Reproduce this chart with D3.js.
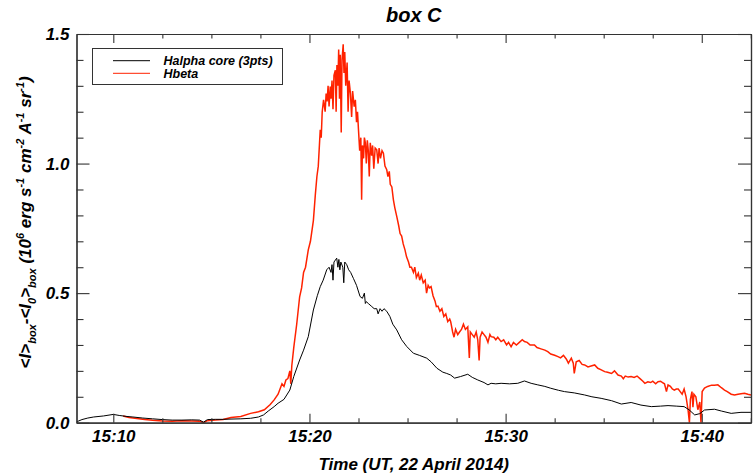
<!DOCTYPE html>
<html>
<head>
<meta charset="utf-8">
<script src="https://cdn.jsdelivr.net/npm/d3@7"></script>
<style>
  body { margin: 0; background: #fff; }
  text { font-family: "Liberation Sans", Arial, sans-serif; font-weight: bold; font-style: italic; }
</style>
</head>
<body>
<div id="chart"></div>
<script>
// time in minutes after 15:00 UT
var halphaTime = [8.12, 8.4, 8.7, 9.0, 9.5, 10.0, 10.3, 10.7, 11.0, 11.5, 12.0, 12.5, 13.0, 13.5, 14.0, 14.4, 14.6, 14.8, 15.2, 15.6,
  16.0, 16.5, 17.0, 17.4, 17.66, 17.9, 18.2, 18.4, 18.7, 19.0, 19.2, 19.5, 19.7, 19.94, 20.2, 20.4, 20.55, 20.7, 20.88, 21.0,
  21.1, 21.15, 21.2, 21.25, 21.39, 21.45, 21.5, 21.55, 21.6, 21.7, 21.75, 21.8, 21.9, 22.0, 22.1, 22.24, 22.4, 22.58, 22.7, 22.8,
  22.85, 22.9, 23.0, 23.15, 23.3, 23.43, 23.5, 23.6, 23.7, 23.8, 23.94, 24.1, 24.25, 24.45, 24.7, 24.96, 25.3, 25.6, 25.98, 26.2,
  26.5, 26.8, 27.0, 27.2, 27.4, 27.7, 28.07, 28.3, 28.58, 28.9, 29.1, 29.26, 29.5, 29.77, 30.2, 30.62, 30.96, 31.3, 31.64, 32.0,
  32.3, 32.7, 33.0, 33.5, 34.03, 34.4, 34.87, 35.4, 35.9, 36.4, 36.9, 37.43, 37.9, 38.28, 38.7, 39.1, 39.35, 39.64, 39.9, 40.14,
  40.65, 41.0, 41.5, 42.0, 42.51];
var halphaValue = [0.003, 0.012, 0.018, 0.022, 0.026, 0.032, 0.028, 0.024, 0.022, 0.018, 0.015, 0.012, 0.010, 0.010, 0.011, 0.010, 0.002, 0.012, 0.013, 0.013,
  0.014, 0.015, 0.017, 0.022, 0.030, 0.045, 0.062, 0.075, 0.090, 0.126, 0.178, 0.242, 0.280, 0.332, 0.435, 0.490, 0.525, 0.550, 0.590, 0.600,
  0.580, 0.610, 0.550, 0.620, 0.635, 0.600, 0.630, 0.590, 0.620, 0.600, 0.540, 0.620, 0.610, 0.590, 0.580, 0.557, 0.530, 0.487, 0.480, 0.500,
  0.460, 0.467, 0.460, 0.450, 0.440, 0.440, 0.420, 0.440, 0.430, 0.440, 0.430, 0.410, 0.380, 0.358, 0.320, 0.294, 0.268, 0.260, 0.249, 0.235,
  0.210, 0.195, 0.190, 0.184, 0.172, 0.178, 0.187, 0.175, 0.165, 0.155, 0.146, 0.152, 0.150, 0.152, 0.150, 0.152, 0.161, 0.152, 0.146, 0.140,
  0.133, 0.125, 0.120, 0.115, 0.107, 0.100, 0.094, 0.085, 0.072, 0.078, 0.068, 0.062, 0.064, 0.066, 0.064, 0.062, 0.050, 0.030, 0.035, 0.049,
  0.052, 0.045, 0.036, 0.040, 0.040];

var hbetaTime = [10.5, 10.8, 11.2, 11.6, 12.0, 12.5, 13.0, 13.5, 14.0, 14.4, 14.6, 14.8, 15.2, 15.6, 16.0, 16.5, 17.0, 17.4, 17.7, 18.0,
  18.2, 18.4, 18.6, 18.7, 18.8, 18.9, 19.0, 19.05, 19.1, 19.2, 19.35, 19.5, 19.6, 19.7, 19.8, 19.94, 20.05, 20.2, 20.3, 20.38,
  20.45, 20.55, 20.6, 20.65, 20.72, 20.8, 20.85, 20.9, 20.95, 21.0, 21.06, 21.1, 21.15, 21.2, 21.25, 21.32, 21.36, 21.4, 21.45, 21.49,
  21.53, 21.57, 21.62, 21.66, 21.72, 21.76, 21.8, 21.85, 21.92, 21.97, 22.02, 22.09, 22.15, 22.2, 22.28, 22.34, 22.4, 22.45, 22.5, 22.56,
  22.62, 22.66, 22.7, 22.76, 22.8, 22.85, 22.9, 22.95, 23.0, 23.05, 23.1, 23.17, 23.22, 23.28, 23.35, 23.43, 23.5, 23.55, 23.62, 23.7,
  23.77, 23.85, 23.94, 24.0, 24.07, 24.12, 24.2, 24.28, 24.35, 24.45, 24.55, 24.62, 24.7, 24.78, 24.87, 24.95, 25.05, 25.12, 25.2, 25.3,
  25.37, 25.45, 25.55, 25.62, 25.7, 25.8, 25.9, 25.97, 26.05, 26.12, 26.2, 26.3, 26.4, 26.47, 26.55, 26.65, 26.75, 26.85, 26.95, 27.05,
  27.15, 27.2, 27.3, 27.37, 27.45, 27.56, 27.65, 27.75, 27.85, 27.95, 28.07, 28.15, 28.2, 28.3, 28.4, 28.5, 28.58, 28.65, 28.7, 28.8,
  28.9, 29.0, 29.1, 29.2, 29.26, 29.4, 29.5, 29.6, 29.77, 29.9, 30.05, 30.15, 30.28, 30.4, 30.55, 30.7, 30.85, 30.96, 31.1, 31.25,
  31.47, 31.6, 31.8, 32.0, 32.15, 32.3, 32.5, 32.67, 32.8, 32.95, 33.1, 33.2, 33.35, 33.45, 33.5, 33.6, 33.75, 33.9, 34.03, 34.2,
  34.4, 34.54, 34.7, 34.85, 35.05, 35.2, 35.4, 35.55, 35.73, 35.9, 36.0, 36.1, 36.25, 36.4, 36.55, 36.7, 36.85, 37.0, 37.1, 37.25,
  37.4, 37.5, 37.65, 37.77, 37.9, 38.0, 38.1, 38.2, 38.28, 38.4, 38.5, 38.6, 38.7, 38.8, 38.9, 39.0, 39.1, 39.2, 39.3, 39.37,
  39.42, 39.5, 39.55, 39.6, 39.7, 39.8, 39.9, 39.96, 40.02, 40.14, 40.3, 40.5, 40.65, 40.82, 41.0, 41.16, 41.3, 41.5, 41.67, 41.85,
  42.0, 42.18, 42.35, 42.51];
var hbetaValue = [0.026, 0.020, 0.016, 0.012, 0.009, 0.007, 0.006, 0.008, 0.007, 0.006, 0.000, 0.008, 0.010, 0.012, 0.020, 0.024, 0.036, 0.042, 0.050, 0.070,
  0.088, 0.110, 0.150, 0.140, 0.165, 0.170, 0.200, 0.150, 0.220, 0.290, 0.380, 0.486, 0.520, 0.580, 0.600, 0.667, 0.700, 0.780, 0.880, 0.950,
  0.990, 1.130, 1.100, 1.200, 1.246, 1.200, 1.270, 1.240, 1.300, 1.220, 1.297, 1.250, 1.320, 1.210, 1.340, 1.360, 1.200, 1.380, 1.300, 1.440,
  1.250, 1.420, 1.120, 1.400, 1.460, 1.350, 1.430, 1.300, 1.390, 1.200, 1.320, 1.270, 1.180, 1.280, 1.220, 1.246, 1.160, 1.200, 1.130, 1.050,
  1.100, 0.860, 1.070, 1.020, 1.100, 1.080, 1.000, 1.090, 1.050, 0.950, 1.080, 1.030, 1.070, 0.980, 1.060, 1.053, 1.000, 1.060, 1.020, 1.050,
  1.040, 0.990, 0.976, 0.950, 0.970, 0.920, 0.910, 0.860, 0.830, 0.796, 0.760, 0.730, 0.720, 0.690, 0.667, 0.640, 0.620, 0.600, 0.600, 0.580,
  0.600, 0.560, 0.577, 0.550, 0.570, 0.540, 0.550, 0.500, 0.530, 0.520, 0.525, 0.490, 0.470, 0.448, 0.450, 0.430, 0.440, 0.410, 0.420, 0.390,
  0.400, 0.390, 0.350, 0.330, 0.360, 0.340, 0.350, 0.360, 0.380, 0.360, 0.370, 0.250, 0.350, 0.340, 0.330, 0.350, 0.320, 0.240, 0.330, 0.350,
  0.340, 0.330, 0.310, 0.340, 0.332, 0.330, 0.320, 0.330, 0.313, 0.320, 0.300, 0.310, 0.293, 0.310, 0.300, 0.310, 0.320, 0.313, 0.310, 0.300,
  0.300, 0.290, 0.285, 0.280, 0.274, 0.265, 0.260, 0.255, 0.250, 0.260, 0.245, 0.230, 0.249, 0.230, 0.190, 0.235, 0.240, 0.225, 0.223, 0.215,
  0.220, 0.223, 0.210, 0.205, 0.197, 0.195, 0.190, 0.200, 0.184, 0.180, 0.170, 0.180, 0.176, 0.178, 0.175, 0.180, 0.170, 0.160, 0.152, 0.158,
  0.155, 0.160, 0.150, 0.158, 0.160, 0.155, 0.150, 0.120, 0.146, 0.140, 0.130, 0.126, 0.130, 0.130, 0.120, 0.110, 0.130, 0.100, 0.050, 0.000,
  0.090, 0.120, 0.060, 0.110, 0.100, 0.050, 0.080, 0.000, 0.120, 0.134, 0.140, 0.145, 0.145, 0.146, 0.135, 0.126, 0.120, 0.110, 0.107, 0.110,
  0.112, 0.114, 0.110, 0.107];

var xMajorTicks = [10, 20, 30, 40];
var xTickLabels = ["15:10", "15:20", "15:30", "15:40"];
var xMinorTicks = [12.5, 15, 17.5, 22.5, 25, 27.5, 32.5, 35, 37.5, 42.5];
var yMajorTicks = [0, 0.5, 1.0, 1.5];
var yTickLabels = ["0.0", "0.5", "1.0", "1.5"];
var yMinorTicks = [0.1, 0.2, 0.3, 0.4, 0.6, 0.7, 0.8, 0.9, 1.1, 1.2, 1.3, 1.4];

var seriesNames = ["Halpha core (3pts)", "Hbeta"];
var seriesColors = ["#000000", "#ff2200"];

var W = 753, H = 473;
var margin = {top: 34, right: 2, bottom: 50.3, left: 76.5},
    width = W - margin.left - margin.right,
    height = H - margin.top - margin.bottom;

var svg = d3.select("#chart")
  .append("svg")
    .attr("width", W)
    .attr("height", H);

var g = svg.append("g")
  .attr("transform", "translate(" + margin.left + "," + margin.top + ")");

var x = d3.scaleLinear()
  .domain([8.124, 42.51])
  .range([0, width]);
var y = d3.scaleLinear()
  .domain([0, 1.5])
  .range([height, 0]);

g.append("defs").append("clipPath").attr("id", "clip")
  .append("rect").attr("width", width).attr("height", height + 1);

// lines
var line = d3.line()
  .x(function(d) { return x(d[0]); })
  .y(function(d) { return y(d[1]); });

var halpha = d3.zip(halphaTime, halphaValue);
var hbeta = d3.zip(hbetaTime, hbetaValue);

g.append("path")
  .datum(hbeta)
  .attr("clip-path", "url(#clip)")
  .attr("d", line)
  .attr("fill", "none")
  .attr("stroke", seriesColors[1])
  .attr("stroke-width", 1.5);

g.append("path")
  .datum(halpha)
  .attr("clip-path", "url(#clip)")
  .attr("d", line)
  .attr("fill", "none")
  .attr("stroke", seriesColors[0])
  .attr("stroke-width", 1);

// axes, ticks inward on all four sides
function styleAxis(sel) {
  sel.selectAll("path").attr("stroke", "#333").attr("stroke-width", 1.2);
  sel.selectAll("line").attr("stroke", "#333").attr("stroke-width", 1.1);
  sel.selectAll("text")
    .attr("font-size", 17)
    .attr("font-family", "'Liberation Sans', Arial, sans-serif")
    .attr("font-weight", "bold")
    .attr("font-style", "italic")
    .attr("fill", "#000");
}

var xb = g.append("g")
  .attr("transform", "translate(0," + height + ")")
  .call(d3.axisBottom(x).tickValues(xMajorTicks).tickSize(-9).tickSizeOuter(0).tickPadding(7)
    .tickFormat(function(d, i) { return xTickLabels[i]; }));
styleAxis(xb);
var xbm = g.append("g")
  .attr("transform", "translate(0," + height + ")")
  .call(d3.axisBottom(x).tickValues(xMinorTicks).tickSize(-4.5).tickSizeOuter(0).tickFormat(""));
styleAxis(xbm);

var xt = g.append("g")
  .call(d3.axisTop(x).tickValues(xMajorTicks).tickSize(-9).tickSizeOuter(0).tickFormat(""));
styleAxis(xt);
var xtm = g.append("g")
  .call(d3.axisTop(x).tickValues(xMinorTicks).tickSize(-4.5).tickSizeOuter(0).tickFormat(""));
styleAxis(xtm);

var yl = g.append("g")
  .call(d3.axisLeft(y).tickValues(yMajorTicks).tickSize(-13).tickSizeOuter(0).tickPadding(7)
    .tickFormat(function(d, i) { return yTickLabels[i]; }));
styleAxis(yl);
var ylm = g.append("g")
  .call(d3.axisLeft(y).tickValues(yMinorTicks).tickSize(-7).tickSizeOuter(0).tickFormat(""));
styleAxis(ylm);

var yr = g.append("g")
  .attr("transform", "translate(" + width + ",0)")
  .call(d3.axisRight(y).tickValues(yMajorTicks).tickSize(-13).tickSizeOuter(0).tickFormat(""));
styleAxis(yr);
var yrm = g.append("g")
  .attr("transform", "translate(" + width + ",0)")
  .call(d3.axisRight(y).tickValues(yMinorTicks).tickSize(-7).tickSizeOuter(0).tickFormat(""));
styleAxis(yrm);

// title
svg.append("text")
  .attr("x", margin.left + width / 2)
  .attr("y", 22)
  .attr("text-anchor", "middle")
  .attr("font-size", 20)
  .text("box C");

// x axis title
svg.append("text")
  .attr("x", margin.left + width / 2)
  .attr("y", 470)
  .attr("text-anchor", "middle")
  .attr("font-size", 17)
  .text("Time (UT, 22 April 2014)");

// y axis title with sub/superscripts
var yt = svg.append("text")
  .attr("transform", "translate(31," + (margin.top + height / 2 - 6) + ") rotate(-90)")
  .attr("text-anchor", "middle")
  .attr("font-size", 17);
var parts = [
  ["<I>", 0], ["box", 1], ["-<I", 0], ["0", 1], [">", 0], ["box", 1],
  [" (10", 0], ["6", -1], [" erg s", 0], ["-1", -1], [" cm", 0], ["-2", -1],
  [" A", 0], ["-1", -1], [" sr", 0], ["-1", -1], [")", 0]
];
var prevShift = 0;
parts.forEach(function(p) {
  var shift = p[1] === 1 ? 5 : (p[1] === -1 ? -7 : 0);
  yt.append("tspan")
    .attr("dy", shift - prevShift)
    .attr("font-size", p[1] === 0 ? 17 : 11)
    .text(p[0]);
  prevShift = shift;
});

// legend
var lg = svg.append("g").attr("transform", "translate(92.5,48.5)");
lg.append("rect")
  .attr("width", 190)
  .attr("height", 36)
  .attr("fill", "#fff")
  .attr("stroke", "#333")
  .attr("stroke-width", 1);
seriesNames.forEach(function(name, i) {
  lg.append("line")
    .attr("x1", 20.5).attr("x2", 57.5)
    .attr("y1", 12.2 + i * 12.6).attr("y2", 12.2 + i * 12.6)
    .attr("stroke", seriesColors[i])
    .attr("stroke-width", 1);
  lg.append("text")
    .attr("x", 71)
    .attr("y", 16.5 + i * 12.6)
    .attr("font-size", 12.5)
    .text(name);
});
</script>
</body>
</html>
